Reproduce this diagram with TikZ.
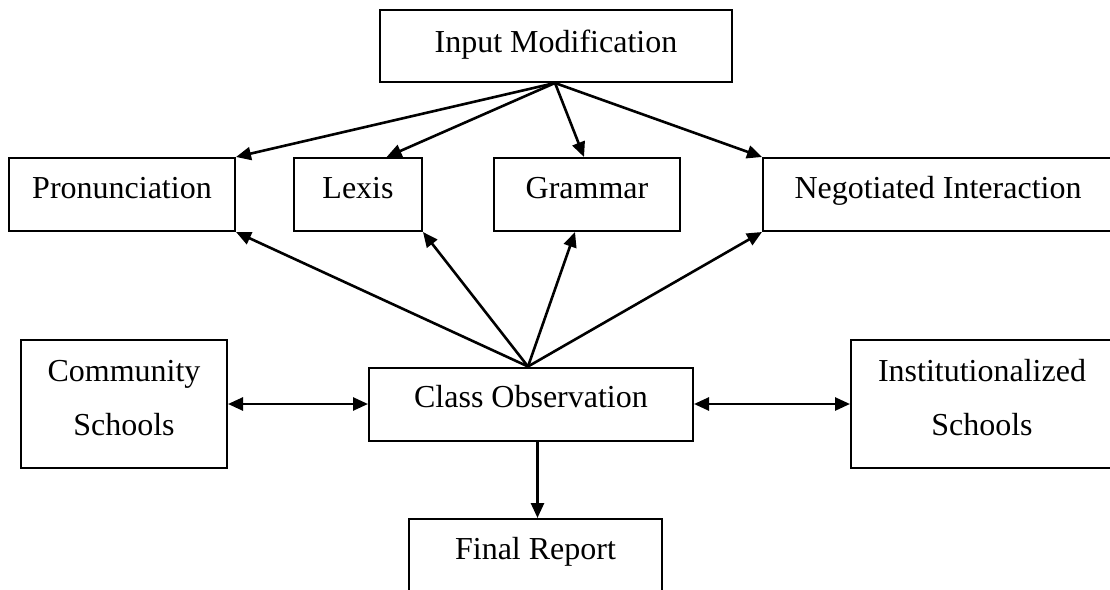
\documentclass[tikz,border=0pt]{standalone}
\usepackage{fontspec}
\setmainfont{Liberation Serif}
\usetikzlibrary{arrows.meta,calc}
\begin{document}
\begin{tikzpicture}[x=1pt,y=-1pt,
  >={Triangle[length=15pt,width=13pt]},
  box/.style={draw, line width=2pt, inner sep=0pt, font=\fontsize{32}{38}\selectfont, text height=22pt, text depth=15pt},
  tallbox/.style={draw, line width=2pt, inner sep=0pt, align=center, font=\fontsize{32}{54}\selectfont},
  link/.style={line width=2.6pt, ->},
  both/.style={line width=2.6pt, <->}]
\useasboundingbox (0,0) rectangle (1110,589);
\fill[white] (0,0) rectangle (1110,589);
\clip (0,0) rectangle (1110,589);

\node[box, text depth=10pt, minimum width=352pt, minimum height=72pt] (inp) at (556,46) {Input Modification};
\node[box, minimum width=226pt, minimum height=73pt] (pron) at (122,194.5) {Pronunciation};
\node[box, minimum width=128pt, minimum height=73pt] (lex) at (358,194.5) {Lexis};
\node[box, minimum width=186pt, minimum height=73pt] (gram) at (587,194.5) {Grammar};
\node[box, minimum width=350pt, minimum height=73pt] (neg) at (938,194.5) {Negotiated Interaction};
\node[tallbox, minimum width=206pt, minimum height=128pt] (comm) at (124,404) {Community\\Schools\rule[-13pt]{0pt}{0pt}};
\node[box, minimum width=324pt, minimum height=73pt] (cls) at (531,404) {Class Observation};
\node[tallbox, minimum width=262pt, minimum height=128pt] (inst) at (982,404) {Institutionalized\\Schools\rule[-13pt]{0pt}{0pt}};
\node[box, minimum width=253pt, minimum height=73pt] (fin) at (535.5,555.5) {Final Report};

\coordinate (top) at ($(inp.south)+(-1,0)$);
\coordinate (apex) at ($(cls.north)+(-3,0)$);

\draw[link] (top) -- (pron.north east);
\draw[link] (top) -- ($(lex.north west)!0.72!(lex.north east)$);
\draw[link] (top) -- ($(gram.north)+(-3,0)$);
\draw[link] (top) -- (neg.north west);

\draw[link] (apex) -- (pron.south east);
\draw[link] (apex) -- (lex.south east);
\draw[link] (apex) -- ($(gram.south)+(-12,0)$);
\draw[link] (apex) -- (neg.south west);

\draw[both] (comm.east) -- (cls.west);
\draw[both] (cls.east) -- (inst.west);
\draw[link] ($(cls.south -| fin.north)+(2,0)$) -- ($(fin.north)+(2,0)$);
\end{tikzpicture}
\end{document}
